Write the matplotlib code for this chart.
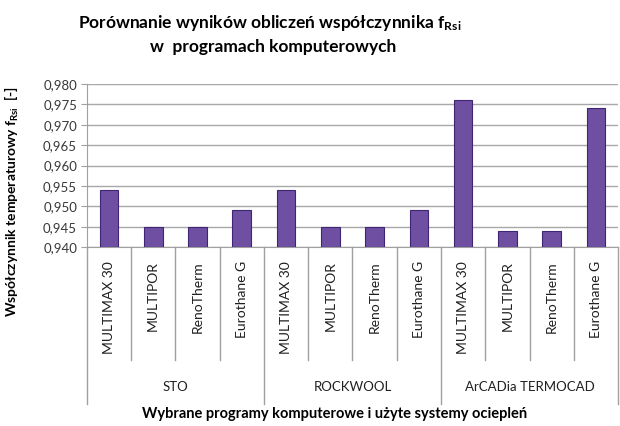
import matplotlib.pyplot as plt
from matplotlib.transforms import blended_transform_factory

plt.rcParams['font.family'] = ['Lato', 'DejaVu Sans']

# data
programs = ['MULTIMAX 30', 'MULTIPOR', 'RenoTherm', 'Eurothane G']
groups = ['STO', 'ROCKWOOL', 'ArCADia TERMOCAD']
values = [0.954, 0.945, 0.945, 0.949,
          0.954, 0.945, 0.945, 0.949,
          0.976, 0.944, 0.944, 0.974]
yticks = [0.940, 0.945, 0.950, 0.955, 0.960, 0.965, 0.970, 0.975, 0.980]

labels = [p for g in groups for p in programs]
x = list(range(len(values)))

fig = plt.figure(figsize=(6.2, 4.26), dpi=100)
ax = fig.add_axes([0.140, 0.420, 0.857, 0.383])

ax.bar(x, [v - 0.940 for v in values], bottom=0.940, width=0.42,
       color='#6E4FA2', edgecolor='#3F2672', linewidth=0.8, zorder=3)

ax.set_xlim(-0.5, len(values) - 0.5)
ax.set_ylim(0.940, 0.980)
ax.set_yticks(yticks)
ax.set_yticklabels([f'{t:.3f}'.replace('.', ',') for t in yticks],
                   fontsize=9.5, color='#383838')
ax.yaxis.grid(True, color='#A8A8A8', linewidth=1.0, zorder=0)
ax.tick_params(axis='y', length=4, color='#A0A0A0', pad=3)

ax.set_xticks(x)
ax.set_xticklabels(labels, rotation=90, fontsize=10, color='#202020')
ax.tick_params(axis='x', length=0, pad=10)

for s in ['top', 'right']:
    ax.spines[s].set_visible(False)
for s in ['left', 'bottom']:
    ax.spines[s].set_color('#A0A0A0')

# multi-level category separators
tr = blended_transform_factory(ax.transData, ax.transAxes)
for i in range(len(values) + 1):
    xs = i - 0.5
    if i % len(programs) == 0:
        ax.plot([xs, xs], [0, -0.96], transform=tr, color='#A0A0A0',
                linewidth=1.0, clip_on=False)
    else:
        ax.plot([xs, xs], [0, -0.69], transform=tr, color='#A0A0A0',
                linewidth=1.0, clip_on=False)
for j, g in enumerate(groups):
    xc = j * len(programs) + (len(programs) - 1) / 2
    ax.text(xc, -0.86, g, transform=tr, ha='center', va='center',
            fontsize=9.5, color='#202020')

fig.text(0.435, 0.947, r'Porównanie wyników obliczeń współczynnika f$\mathregular{_{Rsi}}$',
         ha='center', va='center', fontsize=12.5, fontweight='bold')
fig.text(0.44, 0.889, 'w  programach komputerowych',
         ha='center', va='center', fontsize=12.5, fontweight='bold')
fig.text(0.02, 0.526, r'Współczynnik temperaturowy f$\mathregular{_{Rsi}}$  [-]',
         rotation=90, ha='center', va='center', fontsize=10, fontweight='bold')
fig.text(0.54, 0.028, 'Wybrane programy komputerowe i użyte systemy ociepleń',
         ha='center', va='center', fontsize=10.5, fontweight='bold')

fig.savefig('out.png', dpi=100)
